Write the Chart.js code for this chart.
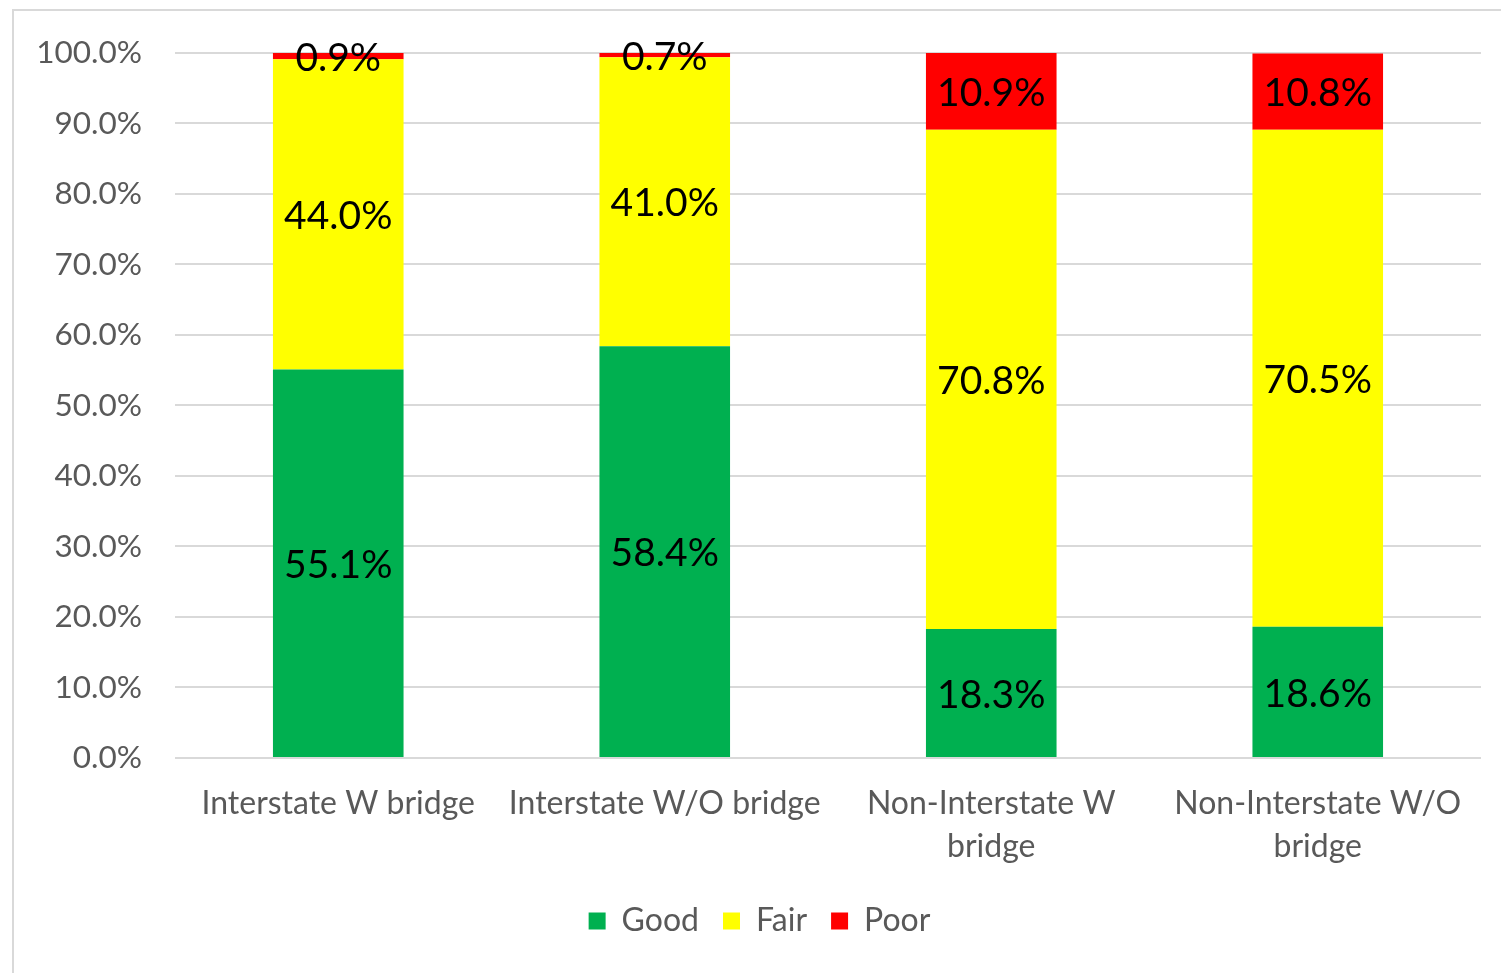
<!DOCTYPE html>
<html>
<head>
<meta charset="utf-8">
<script src="https://cdn.jsdelivr.net/npm/chart.js@4"></script>
<style>
  html, body { margin: 0; padding: 0; background: #fff; overflow: hidden; }
  #frame {
    position: absolute; left: 12px; top: 9px;
    width: 1540px; height: 1000px;
    border-left: 2px solid #d9d9d9; border-top: 2px solid #d9d9d9;
  }
  #wrap { position: absolute; left: 0; top: -10px; width: 1524px; height: 946px; }
</style>
</head>
<body>
<div id="frame"><div id="wrap"><canvas id="bridgeChart"></canvas></div></div>
<script>
// categories and values (percent)
const categories = [
  'Interstate W bridge',
  'Interstate W/O bridge',
  ['Non-Interstate W', 'bridge'],
  ['Non-Interstate W/O', 'bridge']
];
const goodValues = [55.1, 58.4, 18.3, 18.6];
const fairValues = [44.0, 41.0, 70.8, 70.5];
const poorValues = [0.9, 0.7, 10.9, 10.8];

const fontName = 'Lato, "Open Sans", sans-serif';

// draw the value in the middle of every segment
const segmentLabels = {
  id: 'segmentLabels',
  afterDatasetsDraw(chart) {
    const ctx = chart.ctx;
    ctx.save();
    ctx.font = '39px ' + fontName;
    ctx.fillStyle = '#000';
    ctx.textAlign = 'center';
    ctx.textBaseline = 'middle';
    chart.data.datasets.forEach((ds, i) => {
      const meta = chart.getDatasetMeta(i);
      meta.data.forEach((bar, j) => {
        const p = bar.getProps(['x', 'y', 'base'], true);
        const top = Math.max(p.y, chart.chartArea.top);
        ctx.fillText(ds.data[j].toFixed(1) + '%', p.x, (top + p.base) / 2 + 2);
      });
    });
    ctx.restore();
  }
};

new Chart(document.getElementById('bridgeChart'), {
  type: 'bar',
  data: {
    labels: categories,
    datasets: [
      { label: 'Good', data: goodValues, backgroundColor: '#00B050' },
      { label: 'Fair', data: fairValues, backgroundColor: '#FFFF00' },
      { label: 'Poor', data: poorValues, backgroundColor: '#FF0000' }
    ]
  },
  options: {
    responsive: true,
    maintainAspectRatio: false,
    animation: false,
    categoryPercentage: 1,
    barPercentage: 0.4,
    layout: { padding: { left: 24, right: 57, top: 13, bottom: 0 } },
    scales: {
      x: {
        stacked: true,
        grid: { display: false },
        border: { display: false },
        ticks: { color: '#595959', font: { family: fontName, size: 32, lineHeight: 1.34 }, padding: 16, maxRotation: 0 },
        afterFit: s => { s.height = 123; }
      },
      y: {
        stacked: true,
        min: 0,
        max: 100,
        grid: { color: '#d9d9d9', lineWidth: 2, drawTicks: false },
        border: { display: false },
        ticks: {
          stepSize: 10,
          color: '#595959',
          padding: 33,
          font: { family: fontName, size: 31.5 },
          callback: v => v.toFixed(1) + '%'
        },
        afterFit: s => { s.width = 137; }
      }
    },
    plugins: {
      tooltip: { enabled: false },
      legend: {
        position: 'bottom',
        labels: {
          color: '#595959',
          boxWidth: 17,
          boxHeight: 17,
          padding: 24,
          font: { family: fontName, size: 32 }
        }
      }
    }
  },
  plugins: [segmentLabels]
});
</script>
</body>
</html>
